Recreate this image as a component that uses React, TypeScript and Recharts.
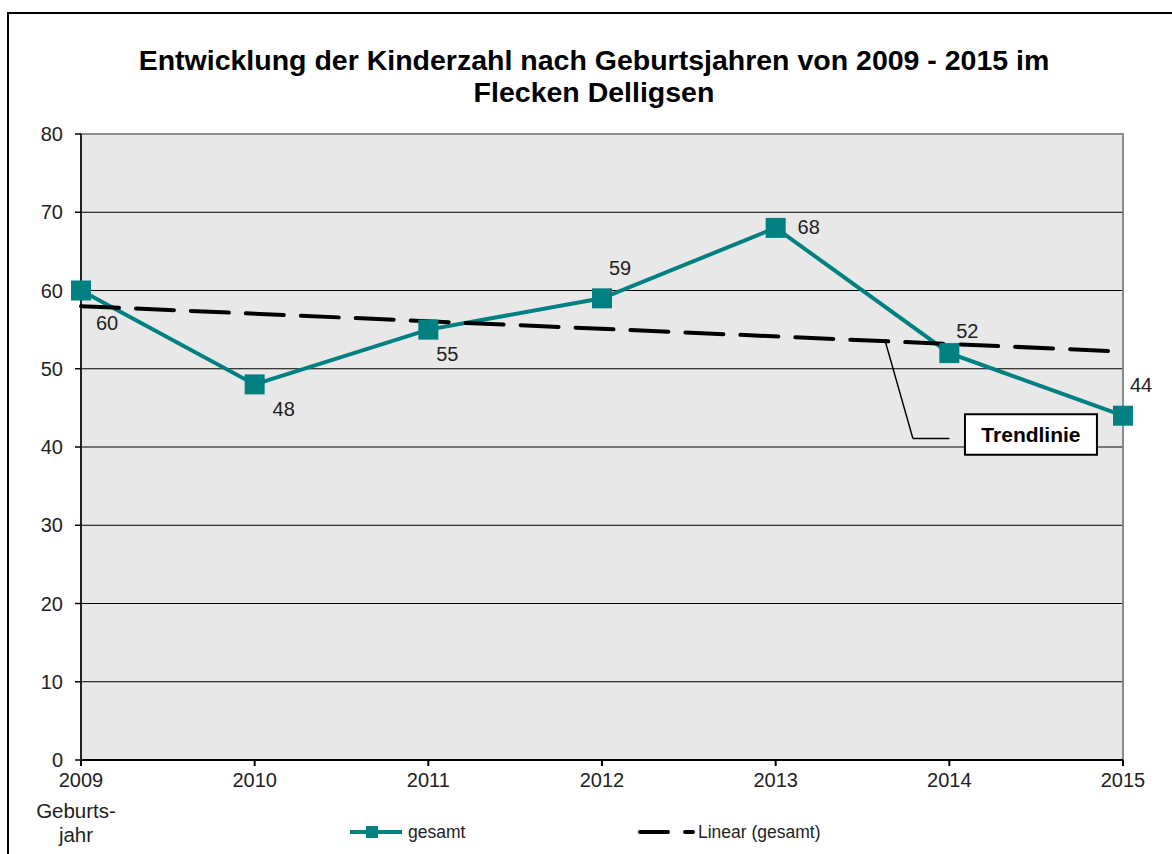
import React from "react";
import {
  LineChart,
  Line,
  XAxis,
  YAxis,
  CartesianGrid,
  ReferenceArea,
  ReferenceLine,
  LabelList,
} from "recharts";

const years = [2009, 2010, 2011, 2012, 2013, 2014, 2015];
const gesamt = [60, 48, 55, 59, 68, 52, 44];
const yTicks = [0, 10, 20, 30, 40, 50, 60, 70, 80];
// Linear (gesamt) at the first and last year
const trendYears = [2009, 2015];
const trendValues = [58.0, 52.2];
// where each data label sits relative to its point
const labelSide = ["belowRight", "belowRight", "belowRight", "aboveRight", "right", "aboveRight", "aboveRight"];

const data = years.map((year, i) => ({ year, gesamt: gesamt[i] }));
const trendData = trendYears.map((year, i) => ({ year, trend: trendValues[i] }));

const FONT = "'Liberation Sans', Arial, sans-serif";
const TEAL = "#008080";

const offsets: Record<string, [number, number]> = {
  belowRight: [24, 34],
  aboveRight: [18, -29],
  right: [33, 1],
};

const ValueLabel = (props: any) => {
  const { x, y, value, index } = props;
  const side = labelSide[index] || "right";
  let [dx, dy] = offsets[side];
  if (index === 0) dx = 26;
  if (index === 1) { dx = 29; dy = 26; }
  if (index === 2) { dx = 19; dy = 26; }
  if (index === 5) dy = -20;
  return (
    <text
      x={x + dx}
      y={y + dy}
      textAnchor="middle"
      dominantBaseline="middle"
      fontSize={20}
      fontFamily={FONT}
      fill="#222"
    >
      {value}
    </text>
  );
};

const Square = (props: any) => {
  const { cx, cy } = props;
  if (cx == null || cy == null) return null;
  return <rect x={cx - 10} y={cy - 10} width={20} height={20} fill={TEAL} />;
};

export default function App() {
  return (
    <div style={{ position: "absolute", left: 0, top: 0, width: 1172, height: 854, background: "#fff", overflow: "hidden", fontFamily: FONT }}>
      <div
        style={{
          position: "absolute",
          left: 7,
          top: 12,
          width: 1180,
          height: 860,
          border: "2px solid #000",
          boxSizing: "border-box",
        }}
      />
      <div
        style={{
          position: "absolute",
          left: 0,
          top: 44,
          width: 1188,
          textAlign: "center",
          fontWeight: "bold",
          fontSize: 28.5,
          lineHeight: "32px",
          color: "#000",
        }}
      >
        Entwicklung der Kinderzahl nach Geburtsjahren von 2009 - 2015 im
        <br />
        Flecken Delligsen
      </div>
      <LineChart
        width={1172}
        height={854}
        data={data}
        margin={{ top: 134, right: 49, bottom: 64, left: 31 }}
        style={{ position: "absolute", left: 0, top: 0 }}
      >
        <CartesianGrid vertical={false} stroke="#000" strokeWidth={1} fill="#E8E8E8" fillOpacity={1} />
        <ReferenceArea x1={2009} x2={2015} y1={0} y2={80} fill="none" stroke="#8c8c8c" strokeWidth={2} />
        <XAxis
          dataKey="year"
          type="number"
          domain={[2009, 2015]}
          ticks={years}
          allowDecimals={false}
          height={30}
          tickSize={6}
          tickMargin={7}
          stroke="#000"
          strokeWidth={2}
          tick={{ fill: "#222", fontSize: 20, fontFamily: FONT }}
        />
        <YAxis
          type="number"
          domain={[0, 80]}
          ticks={yTicks}
          width={50}
          tickSize={6}
          tickMargin={12}
          stroke="#000"
          strokeWidth={1.5}
          tick={{ fill: "#222", fontSize: 20, fontFamily: FONT }}
        />
        <Line
          dataKey="gesamt"
          type="linear"
          stroke={TEAL}
          strokeWidth={4}
          dot={<Square />}
          activeDot={false}
          isAnimationActive={false}
        >
          <LabelList dataKey="gesamt" content={<ValueLabel />} />
        </Line>
        <Line
          data={trendData}
          dataKey="trend"
          type="linear"
          stroke="#000"
          strokeWidth={4}
          strokeDasharray="38 17"
          strokeLinecap="round"
          dot={false}
          activeDot={false}
          isAnimationActive={false}
        />
        <ReferenceLine
          segment={[
            { x: 2013.63, y: 53.6 },
            { x: 2013.79, y: 41.1 },
          ]}
          stroke="#000"
          strokeWidth={1.5}
          ifOverflow="visible"
        />
        <ReferenceLine
          segment={[
            { x: 2013.79, y: 41.1 },
            { x: 2014.0, y: 41.1 },
          ]}
          stroke="#000"
          strokeWidth={1.5}
          ifOverflow="visible"
        />
        <ReferenceArea
          x1={2014.09}
          x2={2014.85}
          y1={39.0}
          y2={44.2}
          fill="#fff"
          fillOpacity={1}
          stroke="#000"
          strokeWidth={2}
          ifOverflow="visible"
          label={{ value: "Trendlinie", position: "center", fontSize: 21, fontWeight: "bold", fill: "#000", fontFamily: FONT }}
        />
      </LineChart>
      <div style={{ position: "absolute", left: 26, top: 799, width: 100, textAlign: "center", fontSize: 20.5, lineHeight: "24px", color: "#222" }}>
        Geburts-
        <br />
        jahr
      </div>
      <svg width={1172} height={40} style={{ position: "absolute", left: 0, top: 814 }}>
        <line x1={350} y1={18} x2={402} y2={18} stroke={TEAL} strokeWidth={4} />
        <rect x={366} y={12} width={12} height={12} fill={TEAL} />
        <text x={408} y={24} fontSize={17.5} fontFamily={FONT} fill="#222">gesamt</text>
        <line x1={640} y1={18} x2={668} y2={18} stroke="#000" strokeWidth={4} strokeLinecap="round" />
        <line x1={685} y1={18} x2={693} y2={18} stroke="#000" strokeWidth={4} strokeLinecap="round" />
        <text x={698} y={24} fontSize={17.5} fontFamily={FONT} fill="#222">Linear (gesamt)</text>
      </svg>
    </div>
  );
}
